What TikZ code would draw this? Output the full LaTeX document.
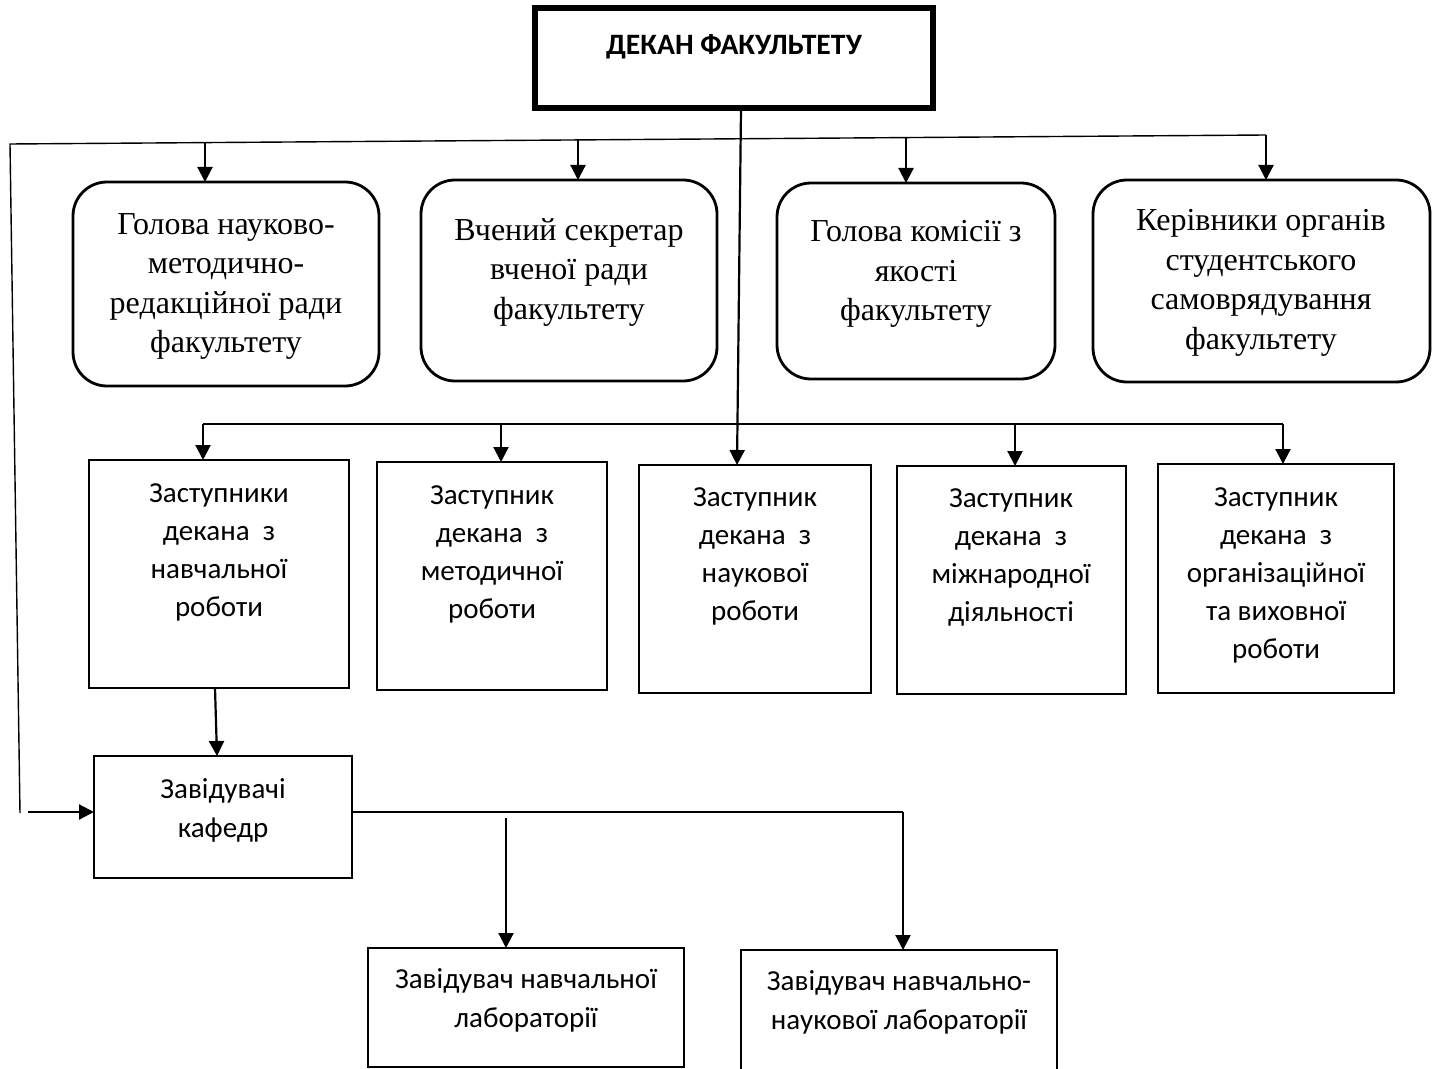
\documentclass[tikz,border=0pt]{standalone}
\usepackage{fontspec}
\setmainfont{Liberation Serif}
\newfontfamily\calib{Carlito}
\usetikzlibrary{arrows.meta,calc}
\begin{document}
\begin{tikzpicture}[x=0.5pt,y=-0.5pt,
  sbox/.style={draw,line width=0.75pt,inner sep=0pt,outer sep=0pt,anchor=north west},
  rbox/.style={draw,line width=1.4pt,rounded corners=17pt,inner sep=0pt,outer sep=0pt,anchor=north west},
  dbox/.style={draw,line width=2.6pt,inner sep=0pt,outer sep=0pt,anchor=north west},
  stxt/.style={font=\calib\fontsize{14.5}{19.1}\selectfont,align=center,anchor=north,inner sep=0pt},
  btxt/.style={font=\calib\fontsize{14.5}{19.8}\selectfont,align=center,anchor=north,inner sep=0pt},
  rtxt/.style={font=\fontsize{16}{19.75}\selectfont,align=center,anchor=north,inner sep=0pt},
  dtxt/.style={font=\calib\bfseries\fontsize{14.8}{17}\selectfont,anchor=north,inner sep=0pt},
  thinln/.style={line width=0.7pt},
  arr/.style={line width=1.1pt,-{Triangle[length=7.5pt,width=7.5pt]}}]
\useasboundingbox (0,0) rectangle (1433,1069);

% dean
\node[dbox,minimum width=199pt,minimum height=50pt] (dean) at (535,8) {};
\node[dtxt] (deant) at (734,34) {ДЕКАН ФАКУЛЬТЕТУ};

% rounded boxes
\node[rbox,minimum width=153pt,minimum height=102pt] (g1) at (73,182) {};
\node[rtxt] (g1t) at (226,213) {Голова науково-\\методично-\\редакційної ради\\факультету};
\node[rbox,minimum width=148pt,minimum height=100.5pt] (g2) at (421,180) {};
\node[rtxt] (g2t) at (569,218) {Вчений секретар\\вченої ради\\факультету};
\node[rbox,minimum width=139pt,minimum height=98pt] (g3) at (777,183) {};
\node[rtxt] (g3t) at (916,220) {Голова комісії з\\якості\\факультету};
\node[rbox,minimum width=168.5pt,minimum height=101pt] (g4) at (1093,180) {};
\node[rtxt] (g4t) at (1261,209) {Керівники органів\\студентського\\самоврядування\\факультету};

% deputies
\node[sbox,minimum width=130pt,minimum height=114pt] (r1) at (89,460) {};
\node[stxt] (r1t) at (219,483) {Заступники\\декана\ \ з\\навчальної\\роботи};
\node[sbox,minimum width=115pt,minimum height=114pt] (r2) at (377,462) {};
\node[stxt] (r2t) at (492,485) {Заступник\\декана\ \ з\\методичної\\роботи};
\node[sbox,minimum width=116pt,minimum height=114pt] (r3) at (639,465) {};
\node[stxt] (r3t) at (755,487) {Заступник\\декана\ \ з\\наукової\\роботи};
\node[sbox,minimum width=114.5pt,minimum height=114pt] (r4) at (897,466) {};
\node[stxt] (r4t) at (1011,488) {Заступник\\декана\ \ з\\міжнародної\\діяльності};
\node[sbox,minimum width=118pt,minimum height=114.5pt] (r5) at (1158,464) {};
\node[stxt] (r5t) at (1276,487) {Заступник\\декана\ \ з\\організаційної\\та виховної\\роботи};

% heads of departments and labs
\node[sbox,minimum width=129pt,minimum height=61pt] (k) at (94,756) {};
\node[btxt] (kt) at (223,778) {Завідувачі\\кафедр};
\node[sbox,minimum width=158pt,minimum height=59.5pt] (b1) at (368,948) {};
\node[btxt] (b1t) at (526,968) {Завідувач навчальної\\лабораторії};
\node[sbox,minimum width=158pt,minimum height=65pt] (b2) at (741,950) {};
\node[btxt] (b2t) at (899,970) {Завідувач навчально-\\наукової лабораторії};

% top distribution line
\coordinate (tl) at (10,144);
\coordinate (tr) at (1266,135);
\coordinate (lb) at (20,813);
\coordinate (a1) at (205,143);
\coordinate (a2) at (578,139);
\coordinate (a3) at (906,137);
\draw[thinln] (tr) -- (tl) -- (lb);
\draw[arr] (a1) -- (a1 |- g1.north);
\draw[arr] (a2) -- (a2 |- g2.north);
\draw[arr] (a3) -- (a3 |- g3.north);
\draw[arr] (tr) -- (tr |- g4.north);

% dean down to deputies
\draw[arr] ($(dean.south)+(7,0)$) -- ($(r3.north)+(-18,0)$);

% deputies line
\coordinate (m1) at (203,424);
\coordinate (m2) at (501,424);
\coordinate (m4) at (1015,424);
\coordinate (m5) at (1283,424);
\draw[thinln] (m1) -- (m5);
\draw[arr] (m1) -- (m1 |- r1.north);
\draw[arr] (m2) -- (m2 |- r2.north);
\draw[arr] (m4) -- (m4 |- r4.north);
\draw[arr] (m5) -- (m5 |- r5.north);

% to heads of departments
\draw[arr] ($(r1.south)+(-4,0)$) -- ($(k.north)+(-6,0)$);
\coordinate (fa) at (28,812);
\draw[arr] (fa) -- (fa -| k.west);

% to labs
\coordinate (kr) at (903,812);
\coordinate (q) at (506,818);
\draw[thinln] (k.east |- kr) -- (kr);
\draw[arr] (kr) -- (kr |- b2.north);
\draw[arr] (q) -- (q |- b1.north);
\end{tikzpicture}
\end{document}
